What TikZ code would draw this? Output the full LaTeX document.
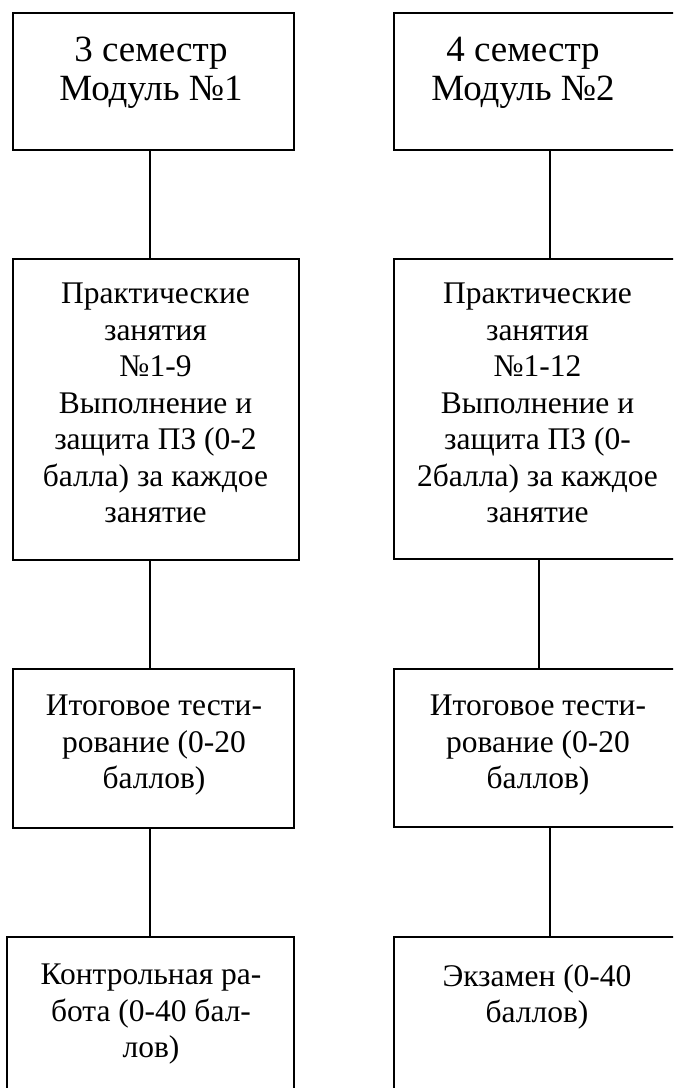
\documentclass[tikz,border=0pt]{standalone}
\usepackage{fontspec}
\setmainfont{Liberation Serif}
\begin{document}
\begin{tikzpicture}[x=1pt,y=-1pt,
  boxst/.style={draw=black,line width=1.3pt,rectangle,inner sep=0pt},
  txt/.style={font=\fontsize{31.5}{36.5}\selectfont,align=center,inner sep=0pt,anchor=north},
  bigtxt/.style={txt,font=\fontsize{37}{38.5}\selectfont},
  link/.style={draw=black,line width=1.3pt}]
\useasboundingbox (0,0) rectangle (673,1088);
\clip (0,0) rectangle (673,1088);
% left column boxes
\node[boxst,minimum width=281pt,minimum height=137pt] (l1) at (153.5,81.5) {};
\node[boxst,minimum width=286pt,minimum height=301pt] (l2) at (156,409.5) {};
\node[boxst,minimum width=281pt,minimum height=159pt] (l3) at (153.5,748.5) {};
\node[boxst,minimum width=287pt,minimum height=200pt] (l4) at (150.5,1037) {};
% right column boxes
\node[boxst,minimum width=306pt,minimum height=137pt] (r1) at (547,81.5) {};
\node[boxst,minimum width=306pt,minimum height=300pt] (r2) at (547,409) {};
\node[boxst,minimum width=306pt,minimum height=158pt] (r3) at (547,748) {};
\node[boxst,minimum width=306pt,minimum height=200pt] (r4) at (547,1037) {};
% texts
\node[bigtxt] (t1) at (151,13+24) {3 семестр\\Модуль №1};
\node[txt] (t2) at (155.5,259+24) {Практические\\занятия\\№1-9\\Выполнение и\\защита ПЗ (0-2\\балла) за каждое\\занятие};
\node[txt] (t3) at (154,669+26) {Итоговое тести-\\рование (0-20\\баллов)};
\node[txt] (t4) at (151,937+27) {Контрольная ра-\\бота (0-40 бал-\\лов)};
\node[bigtxt] (u1) at (523,13+24) {4 семестр\\Модуль №2};
\node[txt] (u2) at (537.5,259+24) {Практические\\занятия\\№1-12\\Выполнение и\\защита ПЗ (0-\\2балла) за каждое\\занятие};
\node[txt] (u3) at (538,669+26) {Итоговое тести-\\рование (0-20\\баллов)};
\node[txt] (u4) at (537,937+27) {Экзамен (0-40\\баллов)};
% connector columns
\coordinate (lx) at (150,0);
\coordinate (rxa) at (550,0);
\coordinate (rxb) at (539,0);
\draw[link] (l1.south -| lx) -- (l2.north -| lx);
\draw[link] (l2.south -| lx) -- (l3.north -| lx);
\draw[link] (l3.south -| lx) -- (l4.north -| lx);
\draw[link] (r1.south -| rxa) -- (r2.north -| rxa);
\draw[link] (r2.south -| rxb) -- (r3.north -| rxb);
\draw[link] (r3.south -| rxa) -- (r4.north -| rxa);
\end{tikzpicture}
\end{document}
